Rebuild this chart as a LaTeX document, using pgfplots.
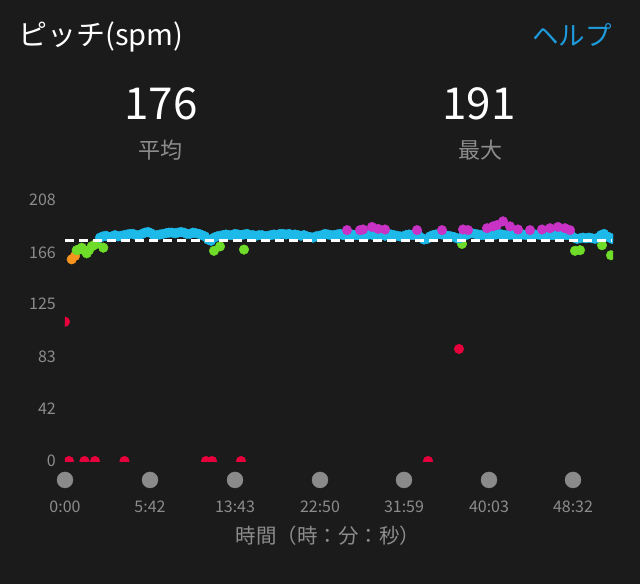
\documentclass[border=0pt]{standalone}
\usepackage{fontspec}
\setmainfont{Noto Sans CJK JP}
\usepackage{pgfplots}
\pgfplotsset{compat=1.18}
\definecolor{bg}{HTML}{1B1B1B}
\definecolor{cyanpt}{HTML}{1DB9E9}
\definecolor{purplept}{HTML}{C833C6}
\definecolor{greenpt}{HTML}{6EDC28}
\definecolor{orangept}{HTML}{F7941D}
\definecolor{redpt}{HTML}{E8003C}
\definecolor{tickgray}{HTML}{8C8C8C}
\definecolor{dotgray}{HTML}{8A8A8A}
\definecolor{helpblue}{HTML}{1E9BDB}
\begin{document}
\begin{tikzpicture}[x=1pt,y=1pt]
\fill[bg] (0,0) rectangle (640,584);
\node[anchor=west, text=white, font=\fontsize{29}{29}\selectfont, inner sep=0] at (18,547) {ピッチ(spm)};
\node[anchor=east, text=helpblue, font=\fontsize{26.5}{26.5}\selectfont, inner sep=0] at (612,549) {ヘルプ};
\node[text=white, font=\fontsize{44}{44}\selectfont, inner sep=0] at (161,480) {176};
\node[text=tickgray, font=\fontsize{22}{22}\selectfont, inner sep=0] at (160,434) {平均};
\node[text=white, font=\fontsize{44}{44}\selectfont, inner sep=0] at (479,480) {191};
\node[text=tickgray, font=\fontsize{22}{22}\selectfont, inner sep=0] at (480,434) {最大};
\begin{axis}[
  at={(65pt,123pt)}, anchor=south west,
  scale only axis, width=548pt, height=261pt,
  xmin=0, xmax=548, ymin=0, ymax=208,
  clip=true, clip marker paths=true,
  axis line style={draw=none},
  major tick length=0pt,
  ytick={0,42,83,125,166,208},
  xtick={0,85,170,255,339,424,508},
  xticklabels={0:00,5:42,13:43,22:50,31:59,40:03,48:32},
  /pgf/number format/assume math mode=true,
  tick label style={text=tickgray, font=\fontsize{16}{16}\selectfont, inner sep=0pt},
  yticklabel style={anchor=east, xshift=-9pt},
  xticklabel style={anchor=center, yshift=-46pt},
  xlabel={時間（時：分：秒）},
  xlabel style={at={(axis description cs:0.48,0)}, anchor=center, yshift=-75pt, text=tickgray, font=\fontsize{20.5}{20.5}\selectfont, inner sep=0pt},
  every axis plot/.append style={only marks, mark=*, mark size=4.8pt, line width=0.4pt},
]
% red (< 151)
\addplot[redpt, mark options={fill=redpt}] coordinates {
(0,111) (4,0) (19.5,0) (30,0) (59.5,0) (141,0) (147,0) (176,0) (363,0) (394,89.3)
};
% orange
\addplot[orangept, mark options={fill=orangept}] coordinates {
(6.7,160.7) (10,163.4)
};
% green
\addplot[greenpt, mark options={fill=greenpt}] coordinates {
(11.7,168) (14,168.5) (16.7,170) (19,168) (21.7,165.5) (24,168) (26.7,171) (29,172) (31.7,173.5) (38.3,170)
(149,167.5) (155,171) (179,168.5) (397,173) (510,167.5) (515,168) (537,172) (546,164)
};
% cyan
\addplot[cyanpt, mark options={fill=cyanpt}] coordinates {
(35,178) (38,179) (41,179.5) (44,178.5) (47,179) (50,180) (53,179) (56,179.5) (59,180) (62,180.5)
(65,181) (68,181) (71,180) (74,180) (77,181) (80,182) (83,182.5) (86,181.5) (89,180) (92,180)
(95,180.5) (98,181) (101,181.5) (104,182) (107,182) (110,181.5) (113,182) (116,182.5) (119,182) (122,181)
(125,181) (128,182) (131,181.5) (134,181) (137,180) (140,179) (143,176.5) (146,175.5) (149,178) (152,179)
(155,179.5) (158,180) (161,180.5) (164,180) (167,180) (170,181) (173,180.5) (176,180) (179,180.5) (182,181)
(185,180) (188,180) (191,179.5) (194,180) (197,180) (200,179) (203,179.5) (206,180) (209,180.5) (212,180)
(215,181) (218,181) (221,180.5) (224,181) (227,180) (230,180.5) (233,180) (236,179.5) (239,180) (242,179)
(245,178.5) (248,178) (251,179) (254,179.5) (257,180) (260,181) (263,180.5) (266,180) (269,180) (272,180.5)
(275,181) (278,180) (281,179.5) (284,180) (287,180.5) (290,180) (293,180) (296,179.5) (299,179) (302,180)
(305,181) (308,180) (311,180.5) (314,181) (317,180) (320,179.5) (323,180) (326,180.5) (329,180) (332,179.5)
(335,179) (338,179) (341,180) (344,180.5) (347,180) (350,180) (353,180.5) (356,178) (359,176.5) (362,177)
(365,179) (368,180) (371,180.5) (374,181) (377,180.5) (380,180) (383,179.5) (386,179) (389,178.5) (392,177.5)
(395,177.5) (398,179) (401,180) (404,181) (407,181.5) (410,181) (413,180.5) (416,180) (419,180) (422,180.5)
(425,180) (428,180) (431,180.5) (434,181) (437,180.5) (440,180) (443,180) (446,180.5) (449,180) (452,180)
(455,180) (458,180.5) (461,180) (464,180) (467,180) (470,180.5) (473,180.5) (476,180) (479,180) (482,180.5)
(485,180) (488,180) (491,180) (494,180.5) (497,180) (500,180) (503,180) (506,180) (509,178) (512,177)
(515,177.5) (518,178) (521,177.5) (524,178) (527,177.5) (530,177) (533,178) (536,180) (539,181) (542,179)
(545,178) (547,177)
};
% purple (> 183)
\addplot[purplept, mark options={fill=purplept}] coordinates {
(282,184) (295,184) (298,184.5) (307,186.5) (313,185) (320,184.5) (352,184) (377,184) (398,184.5) (403,184)
(422,185.5) (428,187) (432,188) (438,191) (445,187) (453,184.5) (465,184) (477,184.5) (485,185.5) (493,186.5)
(500,185.5) (505,184)
};
% average line
\addplot[no marks, sharp plot, white, line width=3pt, dash pattern=on 9pt off 5pt] coordinates {(0,176) (547,176)};
\end{axis}
\begin{axis}[
  at={(65pt,123pt)}, anchor=south west,
  scale only axis, width=548pt, height=261pt,
  xmin=0, xmax=548, ymin=0, ymax=208,
  hide axis, clip=false,
]
\addplot[only marks, mark=*, mark size=8pt, dotgray, mark options={fill=dotgray}] coordinates {
(0,-15.1) (85,-15.1) (170,-15.1) (255,-15.1) (339,-15.1) (424,-15.1) (508,-15.1)
};
\end{axis}
\end{tikzpicture}
\end{document}
